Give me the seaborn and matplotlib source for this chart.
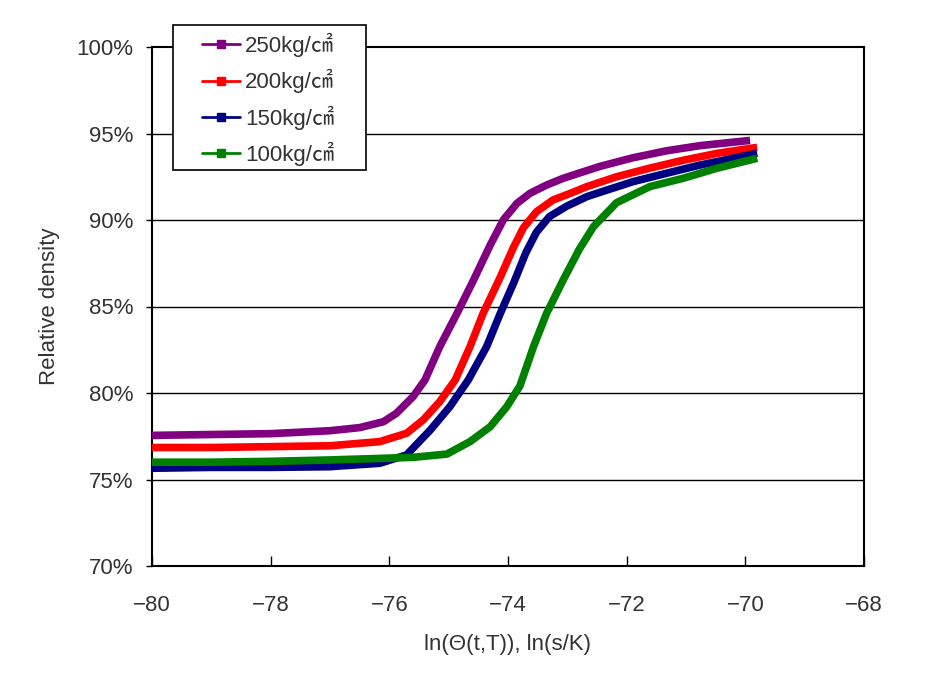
import matplotlib
matplotlib.use("Agg")
import matplotlib.pyplot as plt
import seaborn as sns
import pandas as pd
from matplotlib.lines import Line2D
from matplotlib.patches import Rectangle
from matplotlib.legend_handler import HandlerLine2D
from matplotlib.ticker import FuncFormatter

# ---- data ----
labels = ["250kg/㎠", "200kg/㎠", "150kg/㎠", "100kg/㎠"]
colors = ["#800080", "#FF0000", "#000080", "#008000"]

x_250 = [-80.0, -79.0, -78.0, -77.0, -76.5, -76.1, -75.88, -75.6, -75.4, -75.15, -74.86, -74.58, -74.3, -74.08, -73.85, -73.63, -73.35, -73.07, -72.73, -72.45, -71.89, -71.33, -70.76, -69.92]
y_250 = [77.55, 77.6, 77.65, 77.82, 78.0, 78.34, 78.83, 79.79, 80.75, 82.68, 84.6, 86.53, 88.55, 90.0, 90.96, 91.54, 92.02, 92.41, 92.79, 93.1, 93.6, 94.0, 94.3, 94.6]

x_200 = [-80.0, -79.0, -78.0, -77.0, -76.16, -75.71, -75.43, -75.15, -74.89, -74.64, -74.42, -74.13, -73.91, -73.74, -73.52, -73.24, -72.95, -72.67, -72.17, -71.61, -71.05, -70.48, -69.8]
y_200 = [76.85, 76.85, 76.9, 76.95, 77.19, 77.67, 78.44, 79.5, 80.75, 82.68, 84.6, 86.7, 88.4, 89.55, 90.48, 91.16, 91.54, 91.93, 92.5, 93.0, 93.45, 93.85, 94.2]

x_150 = [-80.0, -79.0, -78.0, -77.0, -76.16, -75.71, -75.31, -74.98, -74.67, -74.36, -74.13, -73.9, -73.7, -73.52, -73.3, -73.01, -72.67, -72.45, -71.89, -71.33, -70.76, -70.2, -69.8]
y_150 = [75.65, 75.7, 75.7, 75.74, 75.94, 76.42, 77.86, 79.21, 80.75, 82.68, 84.6, 86.4, 88.1, 89.3, 90.2, 90.8, 91.35, 91.6, 92.22, 92.7, 93.18, 93.57, 93.86]

x_100 = [-80.0, -79.0, -78.0, -77.0, -75.6, -75.03, -74.64, -74.3, -74.02, -73.8, -73.57, -73.35, -73.07, -72.8, -72.56, -72.17, -71.61, -71.05, -70.48, -69.8]
y_100 = [76.0, 76.0, 76.05, 76.13, 76.28, 76.47, 77.19, 78.05, 79.21, 80.4, 82.68, 84.6, 86.53, 88.3, 89.61, 91.0, 91.93, 92.41, 92.99, 93.57]

xs = [x_250, x_200, x_150, x_100]
ys = [y_250, y_200, y_150, y_100]

rows = []
for lab, xv, yv in zip(labels, xs, ys):
    for a, b in zip(xv, yv):
        rows.append({"x": a, "y": b, "series": lab})
df = pd.DataFrame(rows)

x_ticks = [-80, -78, -76, -74, -72, -70, -68]
y_ticks = [70, 75, 80, 85, 90, 95, 100]

# ---- figure ----
sns.set_theme(style="white")
plt.rcParams["font.family"] = ["Liberation Sans", "Noto Sans CJK KR", "DejaVu Sans"]

FS = 16
fig = plt.figure(figsize=(9.29, 6.79), dpi=100)
ax = fig.add_axes([152/929, 1-566/679, (864-152)/929, (566-47)/679])

sns.lineplot(data=df, x="x", y="y", hue="series", hue_order=labels,
             palette=dict(zip(labels, colors)), sort=False, estimator=None,
             linewidth=5.5, ax=ax, legend=False, zorder=3)
for ln in ax.lines:
    ln.set_clip_on(False)
    ln.set_solid_capstyle("butt")
    ln.set_solid_joinstyle("round")

ax.set_xlim(-80, -68)
ax.set_ylim(70, 100)
ax.set_xticks(x_ticks)
ax.set_yticks(y_ticks)
ax.yaxis.set_major_formatter(FuncFormatter(lambda v, p: f"{v:.0f}%"))
ax.xaxis.set_major_formatter(FuncFormatter(lambda v, p: f"\u2212{abs(v):.0f}" if v < 0 else f"{v:.0f}"))

for y in y_ticks[1:-1]:
    ax.axhline(y, color="black", linewidth=1.0, zorder=1)

for s in ax.spines.values():
    s.set_visible(True)
    s.set_color("black")
    s.set_linewidth(1.5)

ax.tick_params(axis="x", direction="in", length=7, width=1, colors="black",
               labelcolor="#333333", labelsize=FS, pad=21, bottom=True)
ax.tick_params(axis="y", direction="out", length=4, width=1, colors="black",
               labelcolor="#333333", labelsize=FS, pad=9.5, left=True)

ax.set_xlabel("ln(Θ(t,T)), ln(s/K)", fontsize=FS, color="#333333", labelpad=13)
ax.set_ylabel("Relative density", fontsize=FS, color="#333333", labelpad=12)

# legend box (frame drawn as a figure patch so its size matches the reference)
box = Rectangle((173/929, 1-170/679), 193/929, 145/679, transform=fig.transFigure,
                facecolor="white", edgecolor="black", linewidth=1.2, zorder=4)
fig.add_artist(box)

handles = [Line2D([], [], color=c, linewidth=2, marker="s", markersize=6) for c in colors]
leg = fig.legend(handles, labels, loc="upper left",
                 bbox_to_anchor=(173/929, 1-25/679), bbox_transform=fig.transFigure,
                 borderaxespad=0,
                 fontsize=FS, frameon=False,
                 borderpad=0.35, labelspacing=0.55,
                 handlelength=2.65, handletextpad=0.25, numpoints=1,
                 handler_map={Line2D: HandlerLine2D(xpad=0.95)})
leg.set_zorder(5)
for t in leg.get_texts():
    t.set_color("#333333")

fig.savefig("out.png", dpi=100)
